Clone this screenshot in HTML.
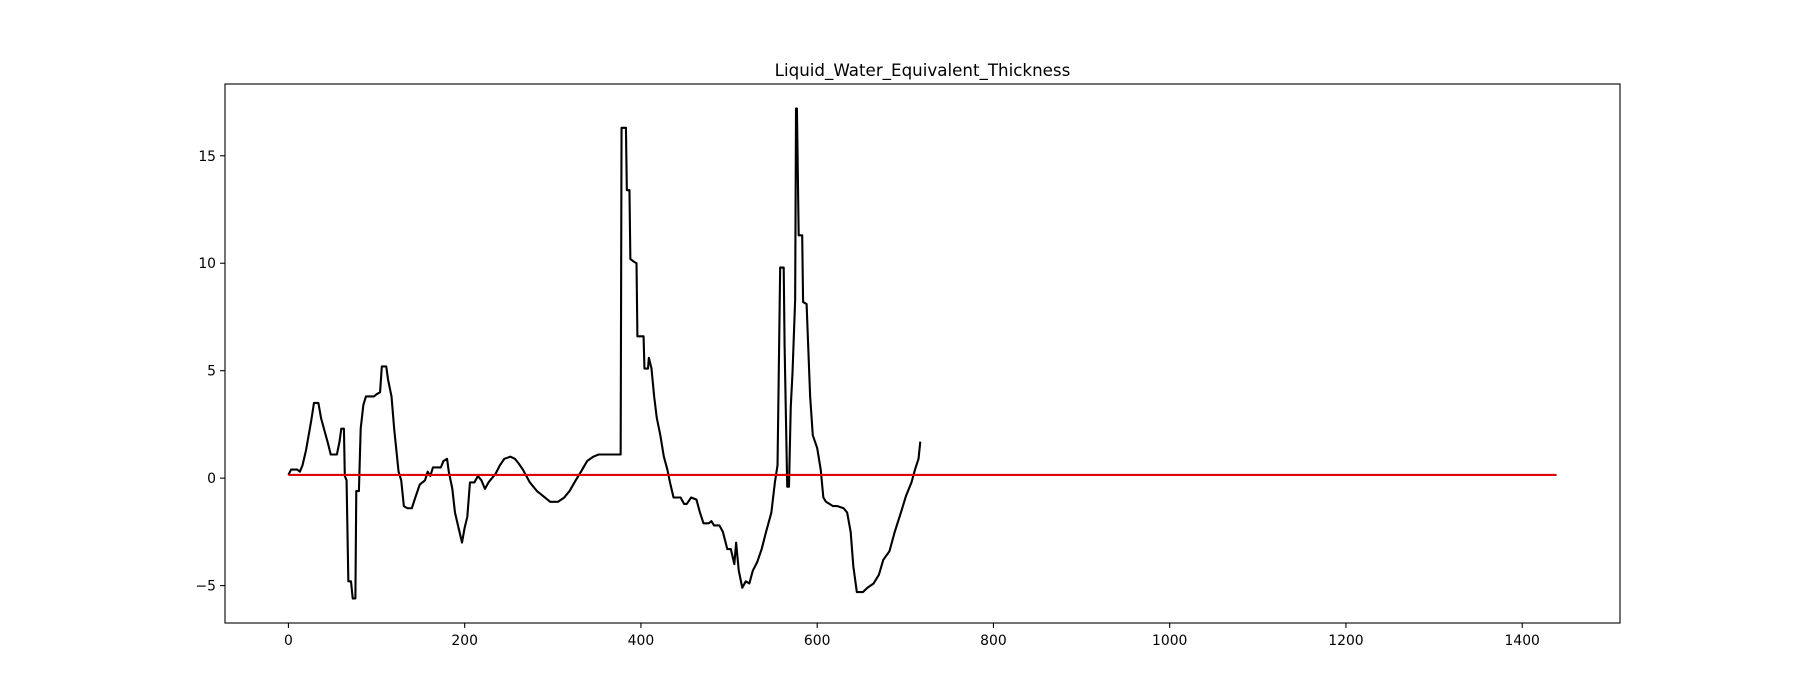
<!DOCTYPE html>
<html><head><meta charset="utf-8"><style>
html,body{margin:0;padding:0;background:#fff;}
svg{display:block;font-family:"DejaVu Sans","Liberation Sans",sans-serif;}
</style></head><body>
<svg id="chart" width="1800" height="700" viewBox="0 0 1800 700" xmlns="http://www.w3.org/2000/svg">
<rect x="0" y="0" width="1800" height="700" fill="#fff"/>
<text x="922.5" y="76" text-anchor="middle" font-size="16.7">Liquid_Water_Equivalent_Thickness</text>
<g id="marks"></g>
<rect x="225" y="84" width="1395" height="539" fill="none" stroke="#000" stroke-width="1.1"/>
<g id="xticks"></g>
<g id="yticks"></g>
</svg>
<script>
const xData=[0,3,10,13,16,20,23,26,29,34,37,41,45,48,55,58,60,63,64,66,68,71,73,76,77,80,82,85,88,97,100,104,106,111,113,117,120,123,125,128,131,135,140,144,149,155,158,161,164,173,176,180,182,186,189,193,197,200,203,206,211,215,219,223,227,235,240,245,252,257,261,266,274,282,291,297,306,313,319,326,332,339,346,352,361,377,378,383,384,387,388,391,395,396,403,404,408,409,412,415,418,422,426,430,433,437,445,449,452,457,463,467,471,477,480,483,489,493,498,502,506,508,511,515,519,523,527,532,537,542,548,552,555,558,562,563,566,568,570,572,575,576,577,579,583,584,588,589,592,595,600,604,607,610,618,623,630,634,638,641,645,652,657,664,670,675,682,688,695,701,707,711,715,717];
const yData=[0.15,0.4,0.4,0.3,0.6,1.3,2.0,2.7,3.5,3.5,2.8,2.2,1.6,1.1,1.1,1.7,2.3,2.3,0.1,-0.1,-4.8,-4.8,-5.6,-5.6,-0.6,-0.6,2.3,3.4,3.8,3.8,3.9,4.0,5.2,5.2,4.6,3.8,2.3,1.1,0.3,-0.1,-1.3,-1.4,-1.4,-0.9,-0.3,-0.1,0.3,0.1,0.5,0.5,0.8,0.9,0.3,-0.5,-1.6,-2.3,-3.0,-2.3,-1.8,-0.2,-0.2,0.1,-0.1,-0.5,-0.2,0.2,0.6,0.9,1.0,0.9,0.7,0.4,-0.2,-0.6,-0.9,-1.1,-1.1,-0.9,-0.6,-0.1,0.3,0.8,1.0,1.1,1.1,1.1,16.3,16.3,13.4,13.4,10.2,10.1,10.0,6.6,6.6,5.1,5.1,5.6,5.1,3.8,2.8,2.0,1.0,0.4,-0.2,-0.9,-0.9,-1.2,-1.2,-0.9,-1.0,-1.6,-2.1,-2.1,-2.0,-2.2,-2.2,-2.5,-3.3,-3.3,-4.0,-3.0,-4.3,-5.1,-4.8,-4.9,-4.3,-3.9,-3.3,-2.5,-1.6,-0.2,0.6,9.8,9.8,6.2,-0.4,-0.4,3.3,4.9,8.3,17.2,17.2,11.3,11.3,8.2,8.1,7.0,3.8,2.0,1.4,0.4,-0.9,-1.1,-1.3,-1.3,-1.4,-1.6,-2.5,-4.1,-5.3,-5.3,-5.1,-4.9,-4.5,-3.8,-3.4,-2.5,-1.6,-0.8,-0.2,0.4,0.9,1.7];
const refX=[0,1439];
const refY=[0.15,0.15];
const xTicks=[0,200,400,600,800,1000,1200,1400];
const yTicks=[-5,0,5,10,15];
const NS="http://www.w3.org/2000/svg";
const X0=225,X1=1620,Y0=623,Y1=84,xmin=-71.95,xmax=1510.95,ymin=-6.74,ymax=18.34;
function sx(v){return X0+(v-xmin)/(xmax-xmin)*(X1-X0);}
function sy(v){return Y0-(v-ymin)/(ymax-ymin)*(Y0-Y1);}
const marks=document.getElementById('marks');
function line(xs,ys,color,name){
  const p=document.createElementNS(NS,'polyline');
  p.setAttribute('points',xs.map((x,i)=>sx(x).toFixed(2)+','+sy(ys[i]).toFixed(2)).join(' '));
  p.setAttribute('fill','none');p.setAttribute('stroke',color);p.setAttribute('stroke-width','2.1');
  p.setAttribute('stroke-linejoin','round');
  
  
  marks.appendChild(p);
}
line(xData,yData,'#000','lwe-thickness-line');
line(refX,refY,'#e00000','reference-line');
const xg=document.getElementById('xticks');
xTicks.forEach(t=>{
  const x=sx(t);
  const l=document.createElementNS(NS,'line');
  l.setAttribute('x1',x);l.setAttribute('x2',x);l.setAttribute('y1',Y0);l.setAttribute('y2',Y0+4.9);
  l.setAttribute('stroke','#000');l.setAttribute('stroke-width','1.1');
  
  
  xg.appendChild(l);
  const tx=document.createElementNS(NS,'text');
  tx.setAttribute('x',x);tx.setAttribute('y',Y0+22);tx.setAttribute('text-anchor','middle');tx.setAttribute('font-size','13.9');
  tx.textContent=t;
  
  
  xg.appendChild(tx);
});
const yg=document.getElementById('yticks');
yTicks.forEach(t=>{
  const y=sy(t);
  const l=document.createElementNS(NS,'line');
  l.setAttribute('x1',X0-4.9);l.setAttribute('x2',X0);l.setAttribute('y1',y);l.setAttribute('y2',y);
  l.setAttribute('stroke','#000');l.setAttribute('stroke-width','1.1');
  
  
  yg.appendChild(l);
  const tx=document.createElementNS(NS,'text');
  tx.setAttribute('x',X0-9);tx.setAttribute('y',y+5);tx.setAttribute('text-anchor','end');tx.setAttribute('font-size','13.9');
  tx.textContent=t<0?'\u2212'+Math.abs(t):t;
  
  
  yg.appendChild(tx);
});
</script>
</body></html>
